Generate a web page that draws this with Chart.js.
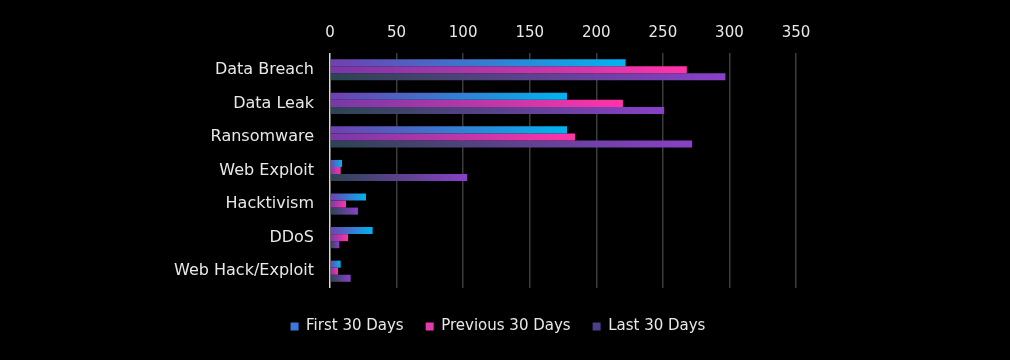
<!DOCTYPE html>
<html>
<head>
<meta charset="utf-8">
<script src="https://cdn.jsdelivr.net/npm/chart.js@4.4.1/dist/chart.umd.min.js"></script>
<style>
    html, body { margin: 0; background: #000; }
    #wrap { width: 1010px; height: 360px; }
</style>
</head>
<body>
<div id="wrap"><canvas id="attacks"></canvas></div>
<script>
// chart values
const categories = ['Data Breach', 'Data Leak', 'Ransomware', 'Web Exploit', 'Hacktivism', 'DDoS', 'Web Hack/Exploit'];
const first30 = [222, 178, 178, 9, 27, 32, 8];
const previous30 = [268, 220, 184, 8, 12, 13.5, 6];
const last30 = [297, 251, 272, 103, 21, 7, 15.5];
const seriesNames = ['First 30 Days', 'Previous 30 Days', 'Last 30 Days'];
const xTicks = [0, 50, 100, 150, 200, 250, 300, 350];

const textColor = '#e8e8e8';
const fontFamily = 'DejaVu Sans';
const legendColors = ['#3f78dc', '#e43aaa', '#4e3e8c'];

// each bar fades from its base colour at 0 to the series colour at its end
function barGradient(from, to) {
    return (context) => {
        const chart = context.chart;
        const xScale = chart.scales.x;
        if (context.type !== 'data' || !xScale) return to;
        const x0 = xScale.getPixelForValue(0);
        const x1 = xScale.getPixelForValue(context.raw);
        if (!Number.isFinite(x0) || !Number.isFinite(x1) || x1 - x0 < 1) return to;
        const g = chart.ctx.createLinearGradient(x0, 0, x1, 0);
        g.addColorStop(0, from);
        g.addColorStop(1, to);
        return g;
    };
}

const data = {
    labels: categories,
    datasets: [
        {
            label: seriesNames[0],
            data: first30,
            backgroundColor: barGradient('#7040b0', '#00b4f0'),
        },
        {
            label: seriesNames[1],
            data: previous30,
            backgroundColor: barGradient('#7838a8', '#ff34a8'),
        },
        {
            label: seriesNames[2],
            data: last30,
            backgroundColor: barGradient('#2c4452', '#8a40c8'),
        }
    ]
};

// legend sits centred on the whole canvas, not only the plot area
const legendCenter = {
    id: 'legendCenter',
    afterLayout(chart) {
        if (chart.legend) {
            chart.legend.left = 0;
            chart.legend.right = 996;
        }
    }
};

const options = {
    indexAxis: 'y',
    responsive: true,
    maintainAspectRatio: false,
    animation: false,
    datasets: {
        bar: {
            categoryPercentage: 0.63,
            barPercentage: 1.0,
            borderWidth: 0
        }
    },
    layout: {
        padding: { left: 0, right: 214, top: 0, bottom: 16 }
    },
    plugins: {
        legend: {
            position: 'bottom',
            // empty title only adds a gap above the legend row
            title: {
                display: true,
                text: '',
                font: { size: 7.5 },
                padding: 0
            },
            labels: {
                color: textColor,
                font: { size: 15, family: fontFamily },
                boxWidth: 8,
                boxHeight: 8,
                padding: 22,
                generateLabels: (chart) => {
                    const items = Chart.defaults.plugins.legend.labels.generateLabels(chart);
                    items.forEach((item, i) => {
                        item.fillStyle = legendColors[i];
                        item.strokeStyle = legendColors[i];
                        item.lineWidth = 0;
                    });
                    return items;
                }
            }
        },
        tooltip: { enabled: false }
    },
    scales: {
        x: {
            position: 'top',
            min: 0,
            max: 350,
            afterBuildTicks: (scale) => {
                scale.ticks = xTicks.map(v => ({ value: v }));
            },
            afterFit: (scale) => {
                scale.height = 53;
            },
            grid: {
                drawTicks: false,
                lineWidth: 1.5,
                color: (ctx) => (ctx.tick && ctx.tick.value === 0) ? '#d9d9d9' : '#3c3c3c'
            },
            border: { display: false },
            ticks: {
                color: textColor,
                font: { size: 15, family: fontFamily },
                padding: 11
            }
        },
        y: {
            afterFit: (scale) => {
                scale.width = 330;
            },
            grid: { display: false },
            border: { display: false },
            ticks: {
                color: textColor,
                font: { size: 16, family: fontFamily },
                padding: 8
            }
        }
    }
};

new Chart(document.getElementById('attacks'), {
    type: 'bar',
    data: data,
    options: options,
    plugins: [legendCenter]
});
</script>
</body>
</html>
